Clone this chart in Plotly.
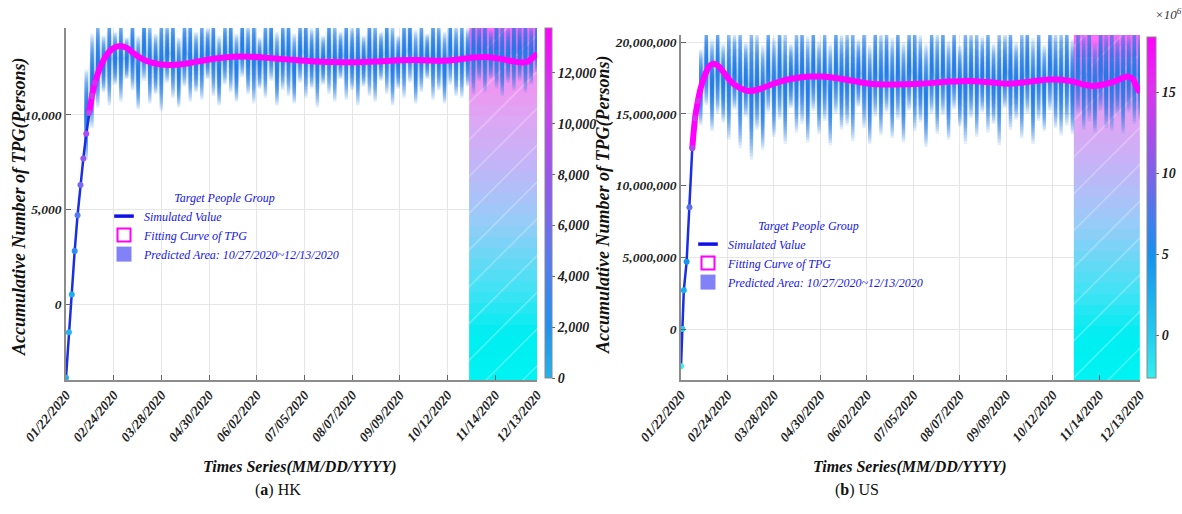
import numpy as np
import pandas as pd
import plotly.graph_objects as go

W, H = 1182, 514
SERIF = "Liberation Serif"
START = "01/22/2020"

# ---------------- data ----------------
tick_labels = ["01/22/2020", "02/24/2020", "03/28/2020", "04/30/2020", "06/02/2020",
               "07/05/2020", "08/07/2020", "09/09/2020", "10/12/2020", "11/14/2020", "12/13/2020"]
pred_start_label = "10/27/2020"
pred_end_label = "12/13/2020"

band_days = [14, 18, 22, 26, 30, 34, 38, 42, 46, 50, 54, 58, 62, 66, 70, 74, 78, 82, 86, 90,
             94, 98, 102, 106, 110, 114, 118, 122, 126, 130, 134, 138, 142, 146, 150, 154, 158,
             162, 166, 170, 174, 178, 182, 186, 190, 194, 198, 202, 206, 210, 214, 218, 222, 226,
             230, 234, 238, 242, 246, 250, 254, 258, 262, 266, 270, 274, 278, 282, 286, 290, 294,
             298, 302, 306, 310, 314, 318, 322, 326]

hk_band_low = [7600, 9300, 10400, 11200, 10500, 11600, 10700, 11900,
               11300, 10300, 11800, 10600, 11100, 10200, 11700, 10900, 10400, 11500, 10700, 11200,
               10800, 11900, 11000, 10500, 11600, 11200, 10700, 12000, 11100, 10600, 11400, 10900, 11800, 10500, 11300,
               11000, 10600, 11700, 10900, 11400, 10400, 11600, 11100, 10700, 11900, 10800, 11300, 10500, 11500, 11000,
               10700, 11800, 11100, 10500, 11400, 10900, 11700, 10600, 11200, 11900, 10800, 11300, 10600, 11600, 11000,
               10900, 11500, 11100, 11800, 11200, 11900, 11400, 11000, 11700, 11300, 11800, 11200, 11600, 12200]
hk_band_high = [12400, 14300, 15200, 14200, 15500, 14400, 15300, 14100,
                15400, 14200, 15500, 15000, 14300, 15400, 14900, 15500, 14100, 15200, 15500, 14400,
                15300, 14600, 15500, 14200, 15100, 15500, 14300, 15400, 14800, 15500, 14100, 15300, 15500, 14400, 15200,
                15500, 14300, 15100, 15500, 14600, 15300, 14200, 15500, 15000, 14400, 15500, 14700, 15300, 14200, 15500,
                15100, 14400, 15500, 14900, 14200, 15400, 15500, 14500, 15200, 14300, 15500, 15000, 14400, 15500, 14800,
                15300, 14600, 15500, 14900, 15400, 14500, 15500, 15100, 14700, 15500, 14900, 15400, 14800, 15200]

hk_fit_days = [0, 2, 4, 6, 8, 10, 12, 14, 16, 18, 20, 23, 26, 30, 34, 38, 42, 47, 53, 60, 68, 76, 85,
               95, 105, 116, 128, 140, 153, 168, 185, 200, 215, 231, 247, 260, 270, 280, 290, 300,
               310, 316, 320, 324, 326]
hk_fit_vals = [-3900, -1500, 500, 2800, 4700, 6300, 7700, 9000, 10100, 11000, 11700, 12400, 12900,
               13350, 13580, 13650, 13550, 13250, 12950, 12750, 12650, 12660, 12740, 12880, 13000,
               13080, 13080, 13020, 12940, 12860, 12800, 12790, 12830, 12890, 12900, 12870, 12920,
               13030, 13060, 12980, 12820, 12780, 12830, 13100, 13250]

us_band_low = [14.2, 15.6, 13.8, 15.0, 14.4, 13.2, 15.3, 12.6,
               14.8, 11.8, 13.9, 12.5, 15.1, 13.4, 14.6, 12.9, 15.4, 13.7, 14.3, 13.0,
               15.2, 13.6, 14.5, 12.8, 15.0, 13.9, 14.2, 13.1, 15.5, 14.0, 12.9, 14.8, 13.5, 15.1, 13.3,
               14.6, 13.0, 15.2, 13.8, 14.4, 12.7, 15.0, 13.6, 14.9, 13.2, 15.3, 14.1, 12.9, 14.7, 13.4,
               15.1, 13.7, 14.3, 12.8, 15.4, 13.9, 14.6, 13.3, 15.0, 12.9, 14.5, 13.8, 15.2, 14.0, 13.5,
               14.2, 13.6, 15.0, 13.9, 14.5, 13.7, 15.2, 14.0, 13.8, 14.9, 13.6, 15.1, 14.3, 14.6]
us_band_high = [19.5, 21.4, 20.2, 21.5, 19.9, 21.3, 20.6, 21.5,
                20.0, 21.5, 20.7, 19.8, 21.4, 20.3, 21.5, 20.9, 19.9, 21.2, 21.5, 20.4,
                21.5, 20.1, 21.3, 19.9, 21.5, 20.6, 21.0, 21.5, 20.2, 21.4, 19.8, 21.5, 20.8, 21.1, 20.3,
                21.5, 20.0, 21.2, 21.5, 20.5, 19.9, 21.4, 20.7, 21.5, 20.1, 21.3, 19.8, 21.5, 20.9, 21.2,
                20.4, 21.5, 19.9, 21.3, 20.6, 21.5, 20.0, 21.2, 21.5, 20.3, 21.4, 19.8, 21.5, 20.8, 21.1,
                21.5, 20.2, 21.3, 20.7, 21.5, 20.0, 21.4, 20.9, 21.5, 20.4, 21.2, 20.6, 21.5, 20.8]

us_fit_days = [0, 1, 2, 4, 6, 8, 10, 12, 14, 17, 20, 23, 27, 31, 36, 42, 48, 55, 63, 72, 82, 92,
               100, 110, 122, 134, 150, 170, 190, 205, 220, 233, 248, 262, 276, 286, 292, 300, 309,
               317, 321, 324, 326]
us_fit_vals = [-2.6, 0.0, 2.7, 4.7, 8.5, 12.6, 14.7, 15.9, 16.8, 17.7, 18.3, 18.5, 18.3, 17.8, 17.2,
               16.8, 16.6, 16.7, 17.0, 17.3, 17.5, 17.6, 17.6, 17.5, 17.3, 17.1, 17.05, 17.1, 17.25,
               17.3, 17.2, 17.1, 17.25, 17.4, 17.3, 17.05, 16.95, 17.05, 17.3, 17.6, 17.4, 16.8, 16.5]
US_UNIT = 1e6

legend_title = "Target People Group"
legend_items = ["Simulated Value", "Fitting Curve of TPG",
                f"Predicted Area: {pred_start_label}~{pred_end_label}"]


# ---------------- helpers ----------------
def day(s):
    return (pd.to_datetime(s, format="%m/%d/%Y") - pd.to_datetime(START, format="%m/%d/%Y")).days


tick_days = [day(s) for s in tick_labels]
PX0, PX1 = day(pred_start_label), day(pred_end_label)


def px(x):
    return x / W


def py(y):
    return 1 - y / H


cmap_hk = [[0, "#22B4EC"], [0.15, "#1E92F2"], [0.35, "#5A7AF2"], [0.55, "#9458F0"],
           [0.78, "#CC40F0"], [1, "#FF00FF"]]
cmap_us = [[0, "#34F0F0"], [0.13, "#22CCF0"], [0.36, "#1492F0"], [0.6, "#7E62EA"],
           [0.85, "#E030F0"], [1, "#FF00FF"]]
pred_scale = [[0, "#00F2F2"], [0.12, "#00EEF2"], [0.25, "#42E2F4"], [0.45, "#98CCF8"],
              [0.6, "#BEB6F8"], [0.75, "#DEA6F4"], [0.9, "#F68CF0"], [1, "#FF6CF6"]]

fig = go.Figure()

panels = [
    dict(name="hk", xa="x", ya="y", dom_x=(66, 537), dom_y=(28, 380), yr=(-4020, 14600),
         days=band_days, low=hk_band_low, high=hk_band_high, unit=1,
         fd=hk_fit_days, fv=hk_fit_vals, cmap=cmap_hk, cmin=0, cmax=13770,
         cb_x=545, cb_th=7, cb_y=(28, 378), cb_ticks=[0, 2000, 4000, 6000, 8000, 10000, 12000],
         cb_text=None, line_from=16, marker_to=20, legend="legend"),
    dict(name="us", xa="x2", ya="y2", dom_x=(681, 1140), dom_y=(35, 380), yr=(-3.55e6, 20.5e6),
         days=band_days, low=us_band_low, high=us_band_high, unit=US_UNIT,
         fd=us_fit_days, fv=us_fit_vals, cmap=cmap_us, cmin=-2.65e6, cmax=18.4e6,
         cb_x=1147, cb_th=9, cb_y=(37, 378), cb_ticks=[0, 5e6, 10e6, 15e6],
         cb_text=["0", "5", "10", "15"], line_from=8, marker_to=12, legend="legend2"),
]

for p in panels:
    xa, ya = p["xa"], p["ya"]
    y0, y1 = p["yr"]
    # predicted area gradient
    edges = np.linspace(y0, y1, 33)
    fig.add_trace(go.Heatmap(x=[PX0, PX1], y=edges, z=[[v] for v in np.linspace(0, 1, 32)],
                             colorscale=pred_scale, showscale=False, zsmooth=False,
                             hoverinfo="skip", xaxis=xa, yaxis=ya))
    # hatch
    fig.add_trace(go.Scatter(x=[PX0, PX1, PX1, PX0, PX0], y=[y0, y0, y1, y1, y0],
                             fill="toself", fillcolor="rgba(0,0,0,0)", mode="lines",
                             line=dict(width=0),
                             fillpattern=dict(shape="/", fgcolor="rgba(255,255,255,0.85)",
                                              bgcolor="rgba(0,0,0,0)", size=26, solidity=0.04),
                             showlegend=False, hoverinfo="skip", xaxis=xa, yaxis=ya))
    # fuzzy simulated band: soft core + streaks
    lo = np.array(p["low"]) * p["unit"]
    hi = np.array(p["high"]) * p["unit"]
    mid = (lo + hi) / 2
    d = list(p["days"])
    Nc = 8
    for k in range(Nc):
        f = (1 - k / Nc) ** 2 * 0.75
        lk = mid - (mid - lo) * f
        hk = mid + (hi - mid) * f
        fig.add_trace(go.Scatter(x=d + d[::-1], y=list(hk) + list(lk[::-1]), fill="toself",
                                 fillcolor="rgba(40,130,232,0.08)", mode="lines",
                                 line=dict(width=0), showlegend=False, hoverinfo="skip",
                                 xaxis=xa, yaxis=ya))
    N = 20
    for k in range(N):
        f = 1 - k / N
        xs, ys = [], []
        for di, l, h, m in zip(d, lo, hi, mid):
            xs += [di, di, None]
            ys += [m - (m - l) * f, m + (h - m) * f, None]
        fig.add_trace(go.Scatter(x=xs, y=ys, mode="lines",
                                 line=dict(color="rgba(28,122,230,0.13)", width=3.4),
                                 showlegend=False, hoverinfo="skip", xaxis=xa, yaxis=ya))
    fd = np.array(p["fd"])
    fv = np.array(p["fv"]) * p["unit"]
    early = fd <= p["marker_to"]
    # simulated value (blue) early rise
    fig.add_trace(go.Scatter(x=fd[early], y=fv[early], mode="lines",
                             line=dict(color="#1A2EE6", width=2.5), showlegend=False,
                             hoverinfo="skip", xaxis=xa, yaxis=ya))
    # fitting curve
    late = fd >= p["line_from"]
    fig.add_trace(go.Scatter(x=fd[late], y=fv[late], mode="lines",
                             line=dict(color="#FF00FF", width=6, shape="spline", smoothing=0.8),
                             showlegend=False, hoverinfo="skip", xaxis=xa, yaxis=ya))
    cb = dict(x=px(p["cb_x"]), xanchor="left", thickness=p["cb_th"], thicknessmode="pixels",
              y=py((p["cb_y"][0] + p["cb_y"][1]) / 2), yanchor="middle",
              len=(p["cb_y"][1] - p["cb_y"][0]) / H, lenmode="fraction",
              outlinecolor="#888", outlinewidth=1, tickmode="array", tickvals=p["cb_ticks"],
              ticks="outside", ticklen=3, tickcolor="#666", xpad=0, ypad=0,
              tickfont=dict(family=SERIF, size=14, style="italic", weight="bold", color="#222"))
    if p["cb_text"]:
        cb["ticktext"] = p["cb_text"]
    else:
        cb["tickformat"] = ","
    fig.add_trace(go.Scatter(x=fd[early], y=fv[early], mode="markers",
                             marker=dict(size=6, color=fv[early], colorscale=p["cmap"],
                                         cmin=p["cmin"], cmax=p["cmax"], showscale=True,
                                         colorbar=cb),
                             showlegend=False, hoverinfo="skip", xaxis=xa, yaxis=ya))
    # legend-only entries
    lg = p["legend"]
    fig.add_trace(go.Scatter(x=[None], y=[None], mode="markers", name=legend_items[0],
                             marker=dict(symbol="line-ew-open", size=14, color="#1010E8",
                                         line=dict(color="#1010E8", width=3.5)),
                             legend=lg, xaxis=xa, yaxis=ya))
    fig.add_trace(go.Scatter(x=[None], y=[None], mode="markers", name=legend_items[1],
                             marker=dict(symbol="square-open", size=13, color="#FF00FF",
                                         line=dict(color="#FF00FF", width=2)),
                             legend=lg, xaxis=xa, yaxis=ya))
    fig.add_trace(go.Scatter(x=[None], y=[None], mode="markers", name=legend_items[2],
                             marker=dict(symbol="square", size=15, color="#8282F8"),
                             legend=lg, xaxis=xa, yaxis=ya))

axis_common = dict(showgrid=True, gridcolor="#E6E6E6", gridwidth=1, zeroline=False,
                   showline=True, linecolor="#8C8C8C", linewidth=1.5, ticks="inside",
                   ticklen=5, tickcolor="#666", automargin=False)
tickfont = dict(family=SERIF, size=13.5, style="italic", weight="bold", color="#222")

layout = dict(width=W, height=H, margin=dict(l=0, r=0, t=0, b=0, autoexpand=False),
              paper_bgcolor="white", plot_bgcolor="white", showlegend=True)
for i, p in enumerate(panels):
    sfx = "" if i == 0 else "2"
    layout["xaxis" + sfx] = dict(axis_common, domain=[px(p["dom_x"][0]), px(p["dom_x"][1])],
                                 range=[0, PX1], tickmode="array", tickvals=tick_days,
                                 ticktext=tick_labels, tickangle=-50, tickfont=tickfont,
                                 anchor="y" + sfx)
    layout["yaxis" + sfx] = dict(axis_common, domain=[py(p["dom_y"][1]), py(p["dom_y"][0])],
                                 range=list(p["yr"]), dtick=5000 if i == 0 else 5e6,
                                 tick0=0, tickformat=",", tickfont=tickfont, anchor="x" + sfx)

legfont = dict(family=SERIF, size=12, style="italic", color="#1414F0")
layout["legend"] = dict(x=px(104), y=py(186), xanchor="left", yanchor="top",
                        bgcolor="rgba(0,0,0,0)", font=legfont, tracegroupgap=0,
                        itemwidth=30,
                        title=dict(text=legend_title, side="top center", font=legfont))
layout["legend2"] = dict(x=px(688), y=py(214), xanchor="left", yanchor="top",
                         bgcolor="rgba(0,0,0,0)", font=legfont, tracegroupgap=0,
                         itemwidth=30,
                         title=dict(text=legend_title, side="top center", font=legfont))
fig.update_layout(**layout)

ann_font = dict(family=SERIF, color="#111")
annotations = [
    dict(text="<b><i>Accumulative Number of TPG(Persons)</i></b>", x=px(19), y=py(207),
         textangle=-90, font=dict(ann_font, size=18)),
    dict(text="<b><i>Accumulative Number of TPG(Persons)</i></b>", x=px(603), y=py(205),
         textangle=-90, font=dict(ann_font, size=18)),
    dict(text="<b><i>Times Series(MM/DD/YYYY)</i></b>", x=px(300), y=py(467),
         font=dict(ann_font, size=16)),
    dict(text="<b><i>Times Series(MM/DD/YYYY)</i></b>", x=px(910), y=py(467),
         font=dict(ann_font, size=16)),
    dict(text="(<b>a</b>) HK", x=px(278), y=py(490), font=dict(ann_font, size=16)),
    dict(text="(<b>b</b>) US", x=px(857), y=py(490), font=dict(ann_font, size=16)),
    dict(text="<i>×10<sup>6</sup></i>", x=px(1168), y=py(14), font=dict(ann_font, size=13, color="#333")),
]
for a in annotations:
    a.update(xref="paper", yref="paper", showarrow=False, xanchor="center", yanchor="middle")
fig.update_layout(annotations=annotations)

fig.write_html("out.html")
